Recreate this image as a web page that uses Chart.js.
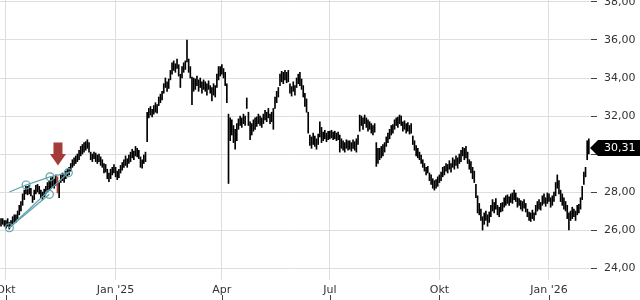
<!DOCTYPE html>
<html>
<head>
<meta charset="utf-8">
<script src="https://cdn.jsdelivr.net/npm/chart.js@4/dist/chart.umd.min.js"></script>
<style>
  html, body { margin: 0; padding: 0; background: #fff; }
  #wrap { width: 640px; height: 300px; position: relative; }
</style>
</head>
<body>
<div id="wrap"><canvas id="chart"></canvas></div>
<script>
// daily bars, one per trading day (index 0 = 26.09.2024)
const lows = [
  26.2, 26.3, 26.2, 26.1, 26.2, 26.05, 26.2, 26.3, 26.4, 26.4,
  26.6, 26.8, 27.0, 27.3, 27.6, 27.9, 27.85, 27.9, 27.8, 27.45,
  27.6, 27.9, 28.0, 27.9, 27.7, 27.6, 27.75, 27.9, 28.0, 28.1,
  28.2, 28.3, 28.2, 28.35, 27.95, 27.7, 28.5, 28.6, 28.5, 28.7,
  28.8, 28.9, 29.1, 29.3, 29.4, 29.5, 29.6, 29.7, 29.9, 30.0,
  30.1, 30.2, 30.3, 30.1, 29.7, 29.6, 29.75, 29.6, 29.5, 29.6,
  29.4, 29.3, 29.0, 29.05, 28.7, 28.55, 28.7, 28.9, 29.0, 28.8,
  28.65, 28.75, 29.0, 29.15, 29.3, 29.4, 29.3, 29.5, 29.6, 29.8,
  29.7, 29.9, 29.85, 29.75, 29.3, 29.25, 29.5, 29.6, 30.65, 31.9,
  32.05, 31.95, 32.1, 32.2, 32.15, 32.55, 32.7, 32.85, 33.2, 33.5,
  33.3, 33.45, 33.9, 34.2, 34.4, 34.3, 34.5, 34.1, 33.5, 34.0,
  34.3, 34.45, 34.85, 34.3, 34.0, 32.6, 33.3, 33.4, 33.6, 33.3,
  33.5, 33.2, 33.4, 33.3, 33.1, 33.4, 33.2, 32.8, 33.1, 33.0,
  33.5, 33.9, 34.1, 34.2, 34.0, 33.6, 32.7, 28.45, 30.7, 31.0,
  30.6, 30.25, 30.7, 31.3, 31.5, 31.4, 31.6, 31.5, 32.4, 31.5,
  30.75, 31.0, 31.2, 31.3, 31.45, 31.6, 31.5, 31.4, 31.6, 31.8,
  31.7, 31.9, 31.6, 31.7, 31.3, 32.4, 32.7, 33.0, 33.6, 33.8,
  33.7, 33.9, 33.75, 33.8, 33.2, 33.05, 33.3, 33.1, 33.5, 33.7,
  33.6, 33.4, 33.0, 32.5, 32.2, 31.1, 30.45, 30.3, 30.5, 30.4,
  30.25, 30.5, 30.9, 30.6, 30.7, 30.8, 30.65, 30.75, 30.8, 30.85,
  30.75, 30.8, 30.7, 30.75, 30.1, 30.3, 30.2, 30.1, 30.3, 30.2,
  30.25, 30.15, 30.3, 30.2, 30.1, 30.5, 31.2, 31.5, 31.3, 31.6,
  31.4, 31.2, 31.3, 31.1, 31.0, 31.15, 29.35, 29.5, 29.7, 29.8,
  29.9, 30.1, 30.4, 30.6, 30.8, 31.0, 31.1, 31.3, 31.5, 31.4,
  31.6, 31.5, 31.2, 31.3, 31.1, 31.2, 31.05, 31.1, 30.5, 30.2,
  29.9, 29.8, 29.7, 29.5, 29.3, 29.1, 28.9, 29.0, 28.6, 28.4,
  28.2, 28.1, 28.2, 28.3, 28.5, 28.6, 28.8, 28.9, 29.1, 29.0,
  29.2, 29.05, 29.3, 29.2, 29.4, 29.25, 29.5, 29.6, 29.9, 29.7,
  29.8, 29.5, 29.2, 29.0, 28.7, 28.5, 27.7, 26.9, 26.8, 26.5,
  26.0, 26.3, 26.5, 26.2, 26.4, 26.7, 27.0, 26.9, 27.1, 26.8,
  26.7, 26.95, 27.0, 27.2, 27.3, 27.4, 27.3, 27.45, 27.4, 27.6,
  27.5, 27.2, 27.3, 27.1, 27.0, 27.15, 26.95, 26.7, 26.5, 26.45,
  26.6, 26.5, 26.8, 27.0, 27.1, 27.05, 27.3, 27.4, 27.25, 27.4,
  27.5, 27.2, 27.3, 27.5, 27.8, 28.2, 27.9, 27.5, 27.3, 27.1,
  27.0, 26.6, 26.0, 26.5, 26.6, 26.7, 26.5, 26.8, 26.9, 27.1,
  27.6, 28.4, 28.8, 29.7, 30.0
];
const highs = [
  26.6, 26.6, 26.5, 26.5, 26.6, 26.4, 26.5, 26.7, 26.8, 26.8,
  27.0, 27.3, 27.5, 27.9, 28.1, 28.3, 28.3, 28.35, 28.2, 27.8,
  28.1, 28.35, 28.4, 28.3, 28.1, 28.0, 28.15, 28.3, 28.5, 28.6,
  28.75, 28.8, 28.7, 28.9, 28.8, 28.5, 28.9, 29.0, 28.95, 29.1,
  29.2, 29.3, 29.5, 29.7, 29.8, 29.9, 30.0, 30.2, 30.4, 30.5,
  30.6, 30.65, 30.75, 30.6, 30.1, 30.0, 30.1, 30.05, 29.95, 30.0,
  29.85, 29.7, 29.5, 29.45, 29.2, 29.0, 29.2, 29.3, 29.45, 29.3,
  29.1, 29.2, 29.4, 29.55, 29.7, 29.9, 29.75, 29.95, 30.1, 30.25,
  30.15, 30.4, 30.3, 30.2, 29.85, 29.7, 29.95, 30.1, 32.2, 32.4,
  32.5, 32.35, 32.55, 32.7, 32.6, 33.0, 33.15, 33.3, 33.7, 34.0,
  33.8, 33.95, 34.4, 34.8, 34.9, 34.75, 35.0, 34.7, 34.2, 34.6,
  34.8, 34.9, 36.0, 35.0, 34.6, 34.05, 34.0, 33.95, 34.1, 33.9,
  34.0, 33.8, 33.9, 33.8, 33.7, 33.85, 33.6, 33.5, 33.7, 33.6,
  34.2, 34.6, 34.6, 34.7, 34.5, 34.3, 33.7, 32.1, 31.9, 31.8,
  31.5, 31.3, 31.6, 31.85, 32.0, 31.9, 32.1, 32.0, 32.95, 32.2,
  31.7, 31.6, 31.8, 31.9, 31.95, 32.1, 32.0, 31.9, 32.1, 32.3,
  32.2, 32.4, 32.1, 32.2, 32.4, 33.0, 33.3, 33.5, 34.2, 34.35,
  34.3, 34.4, 34.3, 34.4, 33.7, 33.55, 33.8, 33.6, 34.0, 34.2,
  34.3, 33.95, 33.6, 33.2, 32.9, 32.2, 31.0, 30.9, 31.1, 30.95,
  30.8, 31.05, 31.7, 31.4, 31.15, 31.25, 31.1, 31.2, 31.2, 31.25,
  31.15, 31.2, 31.1, 31.15, 31.0, 30.8, 30.7, 30.6, 30.75, 30.7,
  30.7, 30.6, 30.75, 30.65, 30.8, 31.0, 32.05, 32.0, 31.9, 32.05,
  31.9, 31.8, 31.7, 31.6, 31.5, 31.6, 30.6, 30.3, 30.3, 30.4,
  30.5, 30.6, 30.9, 31.1, 31.3, 31.5, 31.55, 31.8, 31.9, 31.95,
  32.05, 32.0, 31.7, 31.75, 31.6, 31.65, 31.5, 31.6, 30.95, 30.7,
  30.45, 30.3, 30.1, 29.95, 29.7, 29.5, 29.3, 29.35, 29.0, 28.9,
  28.7, 28.6, 28.65, 28.8, 28.9, 29.05, 29.3, 29.35, 29.5, 29.45,
  29.65, 29.5, 29.8, 29.7, 29.9, 29.8, 30.0, 30.2, 30.35, 30.3,
  30.4, 30.1, 29.7, 29.6, 29.3, 29.1, 28.4, 27.8, 27.4, 27.1,
  26.7, 26.9, 27.0, 26.8, 26.95, 27.3, 27.6, 27.45, 27.65, 27.3,
  27.2, 27.4, 27.45, 27.7, 27.8, 27.85, 27.75, 27.9, 27.95, 28.1,
  27.95, 27.7, 27.65, 27.55, 27.5, 27.6, 27.4, 27.1, 26.95, 26.9,
  27.05, 26.9, 27.3, 27.5, 27.6, 27.45, 27.8, 27.9, 27.7, 27.95,
  27.9, 27.7, 27.8, 28.0, 28.5, 28.9, 28.6, 28.1, 27.9, 27.7,
  27.5, 27.3, 26.9, 27.0, 27.2, 27.1, 27.0, 27.3, 27.35, 27.7,
  28.3, 29.05, 29.3, 30.7, 30.8
];
const lastClose = 30.31;
const signalBar = 34;            // bar marked red with the arrow
const signalArrow = { top: 30.6, tip: 29.4 };

// month ticks (trading-day index) and their labels
const monthTicks = [3, 69, 133, 198, 264, 330];
const monthLabels = ['Okt', "Jan '25", 'Apr', 'Jul', 'Okt', "Jan '26"];
const priceTicks = [24, 26, 28, 30, 32, 34, 36, 38];

// rising wedge drawn over the first weeks
const wedgeUpper = [{x: 5, y: 28.0}, {x: 15.1, y: 28.37}, {x: 29.5, y: 28.8}, {x: 40.5, y: 29.02}, {x: 41.6, y: 29.06}];
const wedgeLowerA = [{x: 5, y: 26.12}, {x: 29.1, y: 27.88}];
const wedgeLowerB = [{x: 5, y: 26.12}, {x: 40.5, y: 29.02}];
const upperRadius = [0, 4, 4, 4, 0];

const teal = '#5fa2ab';
const fmt = v => v.toFixed(2).replace('.', ',');

Chart.defaults.font.family = 'DejaVu Sans';
Chart.defaults.font.size = 11;
Chart.defaults.color = '#333';

const noPad = s => { s.paddingTop = 0; s.paddingBottom = 0; s.paddingLeft = 0; s.paddingRight = 0; };

const overlay = {
  id: 'overlay',
  afterDatasetsDraw(chart) {
    const { ctx, scales: { x, y } } = chart;
    const ax = x.getPixelForValue(signalBar) + 0.5;
    const top = y.getPixelForValue(signalArrow.top);
    const tip = y.getPixelForValue(signalArrow.tip);
    const neck = top + (tip - top) * 0.5;
    ctx.save();
    ctx.fillStyle = '#a43d37';
    ctx.beginPath();
    ctx.moveTo(ax - 4.5, top);
    ctx.lineTo(ax + 4.5, top);
    ctx.lineTo(ax + 4.5, neck);
    ctx.lineTo(ax + 8, neck);
    ctx.lineTo(ax, tip);
    ctx.lineTo(ax - 8, neck);
    ctx.lineTo(ax - 4.5, neck);
    ctx.closePath();
    ctx.fill();
    ctx.restore();
  },
  afterDraw(chart) {
    const { ctx, scales: { x, y } } = chart;
    ctx.save();
    // small tick marks under the month labels
    ctx.strokeStyle = '#444';
    ctx.lineWidth = 1;
    monthTicks.forEach(v => {
      const px = Math.round(x.getPixelForValue(v)) + 0.5;
      ctx.beginPath();
      ctx.moveTo(px, 295);
      ctx.lineTo(px, 300);
      ctx.stroke();
    });
    // last price tag
    const py = Math.round(y.getPixelForValue(lastClose));
    ctx.fillStyle = '#000';
    ctx.beginPath();
    ctx.moveTo(590, py);
    ctx.lineTo(598, py - 8);
    ctx.lineTo(640, py - 8);
    ctx.lineTo(640, py + 8);
    ctx.lineTo(598, py + 8);
    ctx.closePath();
    ctx.fill();
    ctx.fillStyle = '#fff';
    ctx.font = '11px "DejaVu Sans"';
    ctx.textBaseline = 'middle';
    ctx.fillText(fmt(lastClose), 604, py + 0.5);
    ctx.restore();
  }
};

new Chart(document.getElementById('chart'), {
  type: 'bar',
  data: {
    datasets: [
      {
        type: 'line', data: wedgeUpper, borderColor: teal, borderWidth: 1.3,
        pointRadius: upperRadius, pointBorderColor: teal, pointBackgroundColor: 'rgba(0,0,0,0)',
        pointBorderWidth: 1.2, order: 1
      },
      {
        type: 'line', data: wedgeLowerA, borderColor: teal, borderWidth: 1.3,
        pointRadius: 4, pointBorderColor: teal, pointBackgroundColor: 'rgba(0,0,0,0)',
        pointBorderWidth: 1.2, order: 1
      },
      {
        type: 'line', data: wedgeLowerB, borderColor: teal, borderWidth: 1.3,
        pointRadius: 0, order: 1
      },
      {
        label: 'Kurs',
        data: lows.map((lo, i) => ({ x: i, y: [lo, highs[i]] })),
        backgroundColor: c => c.dataIndex === signalBar ? '#b8352e' : '#000',
        barThickness: 1,
        borderSkipped: false,
        order: 2
      }
    ]
  },
  options: {
    responsive: true,
    maintainAspectRatio: false,
    animation: false,
    layout: { padding: 0, autoPadding: false },
    plugins: { legend: { display: false }, tooltip: { enabled: false } },
    scales: {
      x: {
        type: 'linear',
        offset: false,
        min: -0.61,
        max: 355.3,
        grid: { color: '#dedede', drawTicks: false, offset: false },
        border: { display: false },
        ticks: {
          padding: 4, maxRotation: 0, autoSkip: false,
          callback: (v, i) => monthLabels[i]
        },
        afterBuildTicks: s => { s.ticks = monthTicks.map(v => ({ value: v })); },
        afterFit: s => { s.height = 20; noPad(s); }
      },
      y: {
        position: 'right',
        min: 23.37,
        max: 38.105,
        grid: { color: '#dedede', tickColor: '#444', tickLength: 6 },
        border: { display: false },
        ticks: {
          padding: 7,
          // the last-price tag covers the nearest label
          callback: v => Math.abs(v - lastClose) < 0.6 ? '' : fmt(v)
        },
        afterBuildTicks: s => { s.ticks = priceTicks.map(v => ({ value: v })); },
        afterFit: s => { s.width = 49; noPad(s); }
      }
    }
  },
  plugins: [overlay]
});
</script>
</body>
</html>
